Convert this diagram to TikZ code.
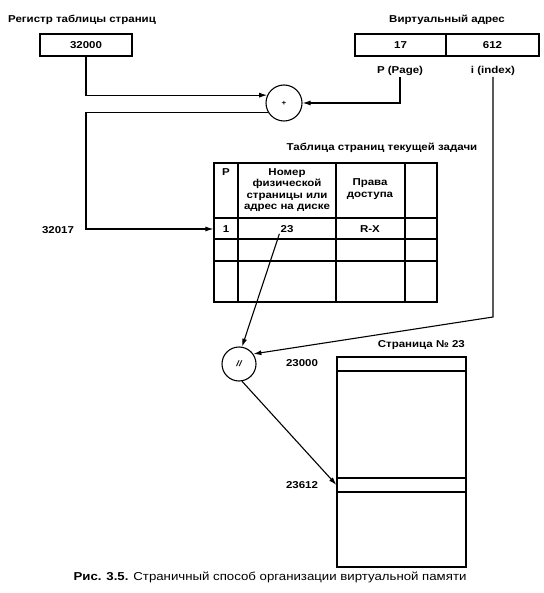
\documentclass[tikz,border=0pt]{standalone}
\usepackage{fontspec}
\setmainfont{Liberation Sans}[FakeStretch=1.15]
\usetikzlibrary{arrows.meta,calc}
\begin{document}
\begin{tikzpicture}[x=1pt,y=-1pt,
  lbl/.style={font=\fontsize{10}{11.3}\selectfont\bfseries, inner sep=1pt},
  ln/.style={line width=1.1pt},
  box/.style={draw, ln, inner sep=0pt},
  arr/.style={ln, -{Latex[length=8pt,width=5pt]}},
  opcirc/.style={draw, circle, ln, inner sep=0pt},
]
\useasboundingbox (0,0) rectangle (543,593);
% register
\node[lbl] (reglbl) at (82,20) {Регистр таблицы страниц};
\node[box,lbl,minimum width=92pt,minimum height=22pt] (reg) at (86,45) {32000};
% virtual address
\node[lbl] (valbl) at (447,20) {Виртуальный адрес};
\node[box,lbl,minimum width=91pt,minimum height=22pt] (vp) at (400.5,45) {17};
\node[box,lbl,minimum width=93pt,minimum height=22pt] (vi) at (492.5,45) {612};
\node[lbl] (plbl) at (400,71) {P (Page)};
\node[lbl] (ilbl) at (493,71) {i (index)};
% adder
\node[opcirc,minimum size=36pt,font=\fontsize{7}{8}\selectfont\bfseries] (plus) at (284,103) {+};
\draw[arr] (reg.south) |- (plus.155);
\draw[arr] (plbl.south) |- (plus.east);
% table
\node[lbl] (ttl) at (382,148) {Таблица страниц текущей задачи};
\node[box,minimum width=223pt,minimum height=139pt] (tab) at (325.5,232.5) {};
\draw[ln] (238,163) -- (238,302);
\draw[ln] (336,163) -- (336,302);
\draw[ln] (405,163) -- (405,302);
\draw[ln] (214,218) -- (437,218);
\draw[ln] (214,239) -- (437,239);
\draw[ln] (214,261) -- (437,261);
\node[lbl] (hp) at (226,172) {P};
\node[lbl,align=center] (hn) at (287,190) {Номер\\физической\\страницы или\\адрес на диске};
\node[lbl,align=center] (hr) at (370,189) {Права\\доступа};
\node[lbl] (p1) at (226,229) {1};
\node[lbl] (n23) at (287,229) {23};
\node[lbl] (rx) at (370,229) {R-X};
\node[lbl] (l32017) at (58,230) {32017};
\coordinate (c1) at (86,229);
\draw[arr] (plus.210) -| (c1) -- (tab.west |- p1);
% concatenation
\node[opcirc,minimum size=34pt,font=\fontsize{8}{9}\selectfont\bfseries\itshape] (sl) at (239,364) {//};
\draw[arr] (n23.south west) -- (sl.80);
\coordinate (c2) at (493,317);
\draw[arr] (ilbl.south) -- (c2) -- (sl.35);
% page
\node[lbl,anchor=east] (pglbl) at (466,345) {Страница № 23};
\node[box,minimum width=129pt,minimum height=210pt] (pg) at (401.5,462) {};
\node[box,minimum width=129pt,minimum height=14pt] (ptop) at (401.5,364) {};
\node[box,minimum width=129pt,minimum height=14pt] (prow) at (401.5,485) {};
\node[lbl] (a0) at (302,363) {23000};
\node[lbl] (a612) at (302,485) {23612};
\draw[arr] (sl.280) -- (prow.west);
% caption
\node[font=\fontsize{11.5}{13}\selectfont] (cap) at (270,577) {\textbf{Рис. 3.5.} Страничный способ организации виртуальной памяти};
\end{tikzpicture}
\end{document}
